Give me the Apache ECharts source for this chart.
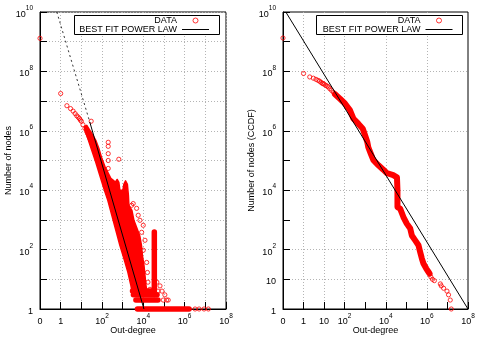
<!DOCTYPE html>
<html><head><meta charset="utf-8">
<script src="https://cdn.jsdelivr.net/npm/echarts@6/dist/echarts.min.js"></script>
<style>html,body{margin:0;padding:0;background:#fff}#c{width:485px;height:339px}</style>
</head><body><div id="c"></div>
<script>
// ---------------- DATA ----------------
// Degree 0 is drawn at the axis start (the "0" tick sits one decade below 1)
const ZERO_AT = 0.1;

// Left: out-degree distribution, individually visible circles [degree, nodes]
const leftPoints = [
  [0,1.3e9],[1,1.8e7],[2,7e6],[3,5.6e6],[4,4.6e6],[5,3.8e6],[6,3.2e6],[7,2.9e6],[8,2.6e6],[9,2.3e6],
  [10,2.1e6],[12,1.6e6],[15,1.2e6],[18,9.5e5],[20,8.1e5],[23,6.6e5],[26,5.5e5],[30,4.4e5],[33,3.7e5],
  [38,3e5],[43,2.5e5],[50,2e5],[56,1.7e5],[63,1.4e5],[70,1.15e5],
  [30,2.1e6],[200,4.1e5],[200,3e5],[200,1.7e5],[200,1e5],[200,5.4e4],[650,1.1e5],
  [3230,3550],[2700,3100],[4730,2450],[5650,1430],[6840,970],[9900,658],[8270,382],[1.2e4,206],
  [9900,95],[1.45e4,37],[1.58e4,17],[1.67e4,8],[2.1e4,4.6],
  [4.5e4,8],[6.4e4,6],[5.1e4,4],[8e4,4],[1.1e5,3],
  [9.2e4,2],[1.35e5,2],[1.6e5,2],
  [3.2e6,1],[5e6,1],[8.7e6,1],[1.4e7,1]
];
// Left: outline of the saturated red mass [degree, nodes]
const leftMass = [
  [14.6,1.42e6],[18.3,1.53e6],[32,8.2e5],[50,4.8e5],[70,2.6e5],[98,1.18e5],[137,6.4e4],[191,4.0e4],
  [267,2.5e4],[354,2.15e4],[442,1.85e4],[541,2.3e4],[654,1.85e4],[731,9900],[1020,9900],[1140,1.58e4],
  [1380,2.07e4],[1690,1.58e4],[1890,6700],[2000,3100],[2800,2100],[3500,970],[4900,520],[6800,280],
  [8100,140],[9000,64],[1.07e4,30],[1.2e4,13.6],[1.34e4,6.3],[1.5e4,3.6],[1.5e4,2.7],
  [3100,2.7],[2500,6.3],[1790,17.2],[1140,51],[731,140],[468,447],[299,1430],[191,4570],[122,1.16e4],
  [78,3.2e4],[50,8.7e4],[32,2.2e5],[20.5,5.6e5],[14.6,1.12e6]
];
// Left: runs of overlapping circles [degree1, nodes1, degree2, nodes2]
const leftRuns = [
  [3.4e4,390,3.4e4,3.1],
  [3300,3,4.6e4,3],
  [3000,4,2.8e4,4],
  [4370,2,5.1e4,2],
  [5200,1,1.63e6,1]
];
// Left: best fit power law (solid) and its dotted extension
const leftFitSolid = [[25.6,1.98e6],[1.07e4,1]];
const leftFitDotted = [[0.65,1e10],[25.6,1.98e6]];

// Right: CCDF circles [degree, nodes]
const rightPoints = [
  [0,1.33e9],[1,8.5e7],[2,6.5e7],[3,5.9e7],[4,5.4e7],[5,5e7],[6,4.7e7],[7,4.3e7],[8,4e7],[9,3.85e7],
  [10,3.7e7],[12,3.4e7],[14,3.2e7],[16,3e7],[19,2.6e7],[23,2.3e7],[28,2e7],[34,1.7e7],
  [1.57e6,12],[1.87e6,10],[2.3e6,9],[4.5e6,7],[5e6,6],[6.5e6,5],[9.5e6,4],[1.13e7,3],[1.37e7,2],[1.54e7,1]
];
// Right: saturated band of circles [degree, nodes]
const rightBand = [
  [34,1.7e7],[59,1.2e7],[103,8.3e6],[182,4.9e6],[263,2.6e6],[460,1.74e6],[760,1.18e6],[980,7.1e5],
  [1260,4.2e5],[1410,2.8e5],[1860,1.7e5],[2500,1.02e5],[4400,6.9e4],[7600,4.9e4],[1.1e4,3.8e4],
  [2.3e4,3.2e4],[3.5e4,2.7e4],[3.7e4,1e4],[3.7e4,2.7e3],[5e4,2.4e3],[7.2e4,1250],[1.05e5,750],
  [1.55e5,510],[1.85e5,300],[2.7e5,205],[3.9e5,140],[4.7e5,83],[5.7e5,50],[6.8e5,34],[9.3e5,23],
  [1.2e6,17.6],[1.35e6,15.5]
];
const rightFit = [[0.137,1e10],[1e8,1]];

// Tick labels (index = decade position from the axis start)
const xTickLabelsLeft  = ['0','1','','10^2','','10^4','','10^6','','10^8'];
const xTickLabelsRight = ['0','1','10','10^2','','10^4','','10^6','','10^8'];
const yTickLabelsLeft  = ['1','','10^2','','10^4','','10^6','','10^8','','10^10'];
const yTickLabelsRight = ['1','10','10^2','','10^4','','10^6','','10^8','','10^10'];
// Which decades carry a grid line on the right panel
const xGridRight = [0,1,1,1,0,1,0,1,0,0];
const yGridRight = [0,1,1,0,1,0,1,0,1,0,0];

// ---------------- CHART ----------------
const FF = 'Liberation Sans, Arial, Helvetica, sans-serif';
const RED = '#ff0000';
const GRIDC = '#b4b4b4';

function toRich(s){
  if (!s) return '';
  const i = s.indexOf('^');
  if (i < 0) return '{b|' + s + '}';
  return '{b|' + s.slice(0,i) + '}{s|' + s.slice(i+1) + '}';
}
function labelFn(arr, offset){
  return function(v){
    const e = Math.round(Math.log(v)/Math.LN10) + offset;
    return toRich(arr[e] || '');
  };
}
const rich = {
  b:{fontSize:9, fontFamily:FF, color:'#000', lineHeight:14, verticalAlign:'bottom'},
  s:{fontSize:6.5, fontFamily:FF, color:'#000', lineHeight:7, verticalAlign:'top'}
};
const zmap = p => [p[0] === 0 ? ZERO_AT : p[0], p[1]];

function xAxis(idx, labels, gridVis){
  return {
    type:'log', logBase:10, gridIndex:idx, min:ZERO_AT, max:1e8, interval:1,
    name:'Out-degree', nameLocation:'middle', nameGap:17, nameMoveOverlap:false,
    nameTextStyle:{fontFamily:FF, fontSize:9, color:'#000'},
    axisLine:{show:true, lineStyle:{color:'#000', width:1}},
    axisTick:{show:true, inside:true, length:7, lineStyle:{color:'#000', width:1}},
    axisLabel:{formatter:labelFn(labels,1), rich:rich, margin:3.5, showMinLabel:true, showMaxLabel:true, hideOverlap:false},
    splitLine:{show:true, lineStyle:{color: gridVis ? gridVis.map(g=>g?GRIDC:'rgba(0,0,0,0)') : GRIDC, type:[1,2], width:1}},
    minorTick:{show:false}
  };
}
function yAxis(idx, labels, gridVis, name){
  return {
    type:'log', logBase:10, gridIndex:idx, min:1, max:1e10, interval:1,
    name:name, nameLocation:'middle', nameGap:27, nameRotate:90, nameMoveOverlap:false,
    nameTextStyle:{fontFamily:FF, fontSize:9, color:'#000'},
    axisLine:{show:true, lineStyle:{color:'#000', width:1}},
    axisTick:{show:true, inside:true, length:7, lineStyle:{color:'#000', width:1}},
    axisLabel:{formatter:labelFn(labels,0), rich:rich, margin:7, showMinLabel:true, showMaxLabel:true, hideOverlap:false},
    splitLine:{show:true, lineStyle:{color: gridVis ? gridVis.map(g=>g?GRIDC:'rgba(0,0,0,0)') : GRIDC, type:[1,2], width:1}}
  };
}
const circleStyle = {color:'rgba(255,0,0,0)', borderColor:RED, borderWidth:1};

const option = {
  animation:false,
  backgroundColor:'#fff',
  grid:[
    {left:40, top:12, width:186, height:297, show:true, borderColor:'#000', borderWidth:1, backgroundColor:'transparent', outerBoundsMode:'none', containLabel:false},
    {left:283, top:12, width:185, height:297, show:true, borderColor:'#000', borderWidth:1, backgroundColor:'transparent', outerBoundsMode:'none', containLabel:false}
  ],
  xAxis:[xAxis(0, xTickLabelsLeft, null), xAxis(1, xTickLabelsRight, xGridRight)],
  yAxis:[yAxis(0, yTickLabelsLeft, null, 'Number of nodes'), yAxis(1, yTickLabelsRight, yGridRight, 'Number of nodes (CCDF)')],
  graphic:[
    {type:'rect', left:74, top:15, z:3, shape:{width:145, height:19}, style:{fill:'#fff', stroke:'#000', lineWidth:1}},
    {type:'rect', left:316, top:15, z:3, shape:{width:146, height:19}, style:{fill:'#fff', stroke:'#000', lineWidth:1}}
  ],
  legend:[0,1].map(i => ({
    data:[
      {name:'DATA', icon:'circle', itemStyle:{color:'rgba(255,0,0,0)', borderColor:RED, borderWidth:1}},
      {name:'BEST FIT POWER LAW', icon:'path://M0,0H27V1H0Z', itemStyle:{color:'#000', borderWidth:0}}
    ],
    orient:'vertical', align:'right',
    right: i === 0 ? 276 : 32.5, top:16, itemWidth:27, itemHeight:5, itemGap:0, padding:0,
    selectedMode:false, z:10,
    textStyle:{fontFamily:FF, fontSize:9, color:'#000', lineHeight:9}
  })),
  series:[
    {type:'custom', name:'mass', xAxisIndex:0, yAxisIndex:0, z:2, silent:true, clip:false,
     data:[leftMass[0]], encode:{x:0, y:1},
     renderItem:(params, api) => ({type:'polygon', shape:{points:leftMass.map(p => api.coord(p))},
       style:{fill:RED, stroke:RED, lineWidth:1.5, lineJoin:'round'}})},
    {type:'custom', name:'runs', xAxisIndex:0, yAxisIndex:0, z:2, silent:true, clip:false,
     data:leftRuns, encode:{x:[0,2], y:[1,3]},
     renderItem:(params, api) => {
       const a = api.coord([api.value(0), api.value(1)]);
       const b = api.coord([api.value(2), api.value(3)]);
       return {type:'line', shape:{x1:a[0], y1:a[1], x2:b[0], y2:b[1]},
         style:{stroke:RED, lineWidth:5.5, lineCap:'round'}};
     }},
    {type:'scatter', name:'DATA', xAxisIndex:0, yAxisIndex:0, z:3, clip:false, silent:true,
     data:leftPoints.map(zmap), symbol:'circle', symbolSize:4.2, itemStyle:circleStyle},
    {type:'line', name:'BEST FIT POWER LAW', xAxisIndex:0, yAxisIndex:0, z:5, silent:true,
     data:leftFitSolid, symbol:'none', lineStyle:{color:'#000', width:1}},
    {type:'line', name:'fit extension', xAxisIndex:0, yAxisIndex:0, z:5, silent:true,
     data:leftFitDotted, symbol:'none', lineStyle:{color:'#333', width:1, type:[2,3]}},

    {type:'line', name:'band', xAxisIndex:1, yAxisIndex:1, z:2, silent:true,
     data:rightBand, symbol:'none', lineStyle:{color:RED, width:6, cap:'round', join:'round'}},
    {type:'scatter', name:'DATA', xAxisIndex:1, yAxisIndex:1, z:3, clip:false, silent:true,
     data:rightPoints.map(zmap), symbol:'circle', symbolSize:4.2, itemStyle:circleStyle},
    {type:'line', name:'BEST FIT POWER LAW', xAxisIndex:1, yAxisIndex:1, z:5, silent:true,
     data:rightFit, symbol:'none', lineStyle:{color:'#000', width:1}}
  ]
};
const chart = echarts.init(document.getElementById('c'), null, {renderer:'canvas'});
chart.setOption(option);
</script></body></html>
